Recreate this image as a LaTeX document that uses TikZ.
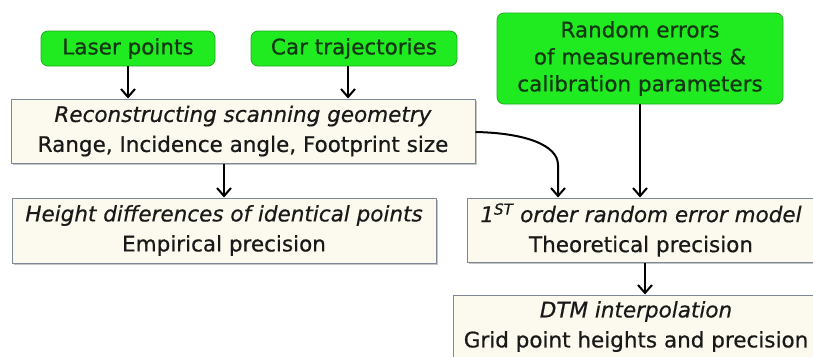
\documentclass[tikz,border=0pt]{standalone}
\usepackage{fontspec}
\setmainfont{DejaVu Sans}[FakeBold=0.6]
\usetikzlibrary{shadows,arrows.meta}
\definecolor{grn}{RGB}{32,235,32}
\definecolor{grnb}{RGB}{30,175,30}
\definecolor{grntxt}{RGB}{18,55,18}
\definecolor{beige}{RGB}{252,250,238}
\definecolor{bord}{RGB}{125,135,150}
\begin{document}
\begin{tikzpicture}[x=1pt,y=-1pt,
  inbox/.style={draw=grnb, fill=grn, rounded corners=7pt, line width=0.8pt,
    font=\fontsize{21.5}{27}\selectfont, text=grntxt, inner sep=0pt, align=center},
  procbox/.style={draw=bord, fill=beige, line width=1pt,
    drop shadow={shadow xshift=1.5pt, shadow yshift=-1.5pt, fill=black!45},
    align=center, font=\fontsize{21.5}{30}\selectfont, text=black!90, inner sep=0pt},
  arr/.style={-{Straight Barb[length=8pt,width=14pt,line width=2pt]}, line width=2pt}]
\useasboundingbox[fill=white] (0,0) rectangle (813,356);
\node[inbox, minimum width=174, minimum height=35] (laser) at (128,48.5) {Laser points};
\node[inbox, minimum width=206, minimum height=35] (car) at (354,48.5) {Car trajectories};
\node[inbox, minimum width=286, minimum height=91] (rand) at (640,58.5)
  {Random errors\\of measurements \&\\calibration parameters};
\node[procbox, minimum width=464, minimum height=64] (recon) at (243,131)
  {\textit{Reconstructing scanning geometry}\\Range, Incidence angle, Footprint size};
\node[procbox, minimum width=424, minimum height=65] (height) at (224,230.5)
  {\textit{Height differences of identical points}\\Empirical precision};
\node[procbox, minimum width=348, minimum height=64] (first) at (641,230)
  {\textit{1\textsuperscript{ST} order random error model}\\Theoretical precision};
\node[procbox, minimum width=366, minimum height=63] (dtm) at (636,326.5)
  {\textit{DTM interpolation}\\Grid point heights and precision};
\draw[arr] (laser.south) -- (laser.south |- recon.north);
\draw[arr] ([xshift=-6]car.south) -- ([xshift=-6]car.south |- recon.north);
\draw[arr] (height.north |- recon.south) -- (height.north);
\draw[arr] (rand.south) -- (rand.south |- first.north);
\coordinate (cv) at ([xshift=-83]first.north);
\draw[arr] ([yshift=-1]recon.east) .. controls (525,133) and (558,145) .. (cv |- 0,165) -- (cv);
\draw[arr] ([xshift=4]first.south) -- ([xshift=4]first.south |- dtm.north);
\end{tikzpicture}
\end{document}
